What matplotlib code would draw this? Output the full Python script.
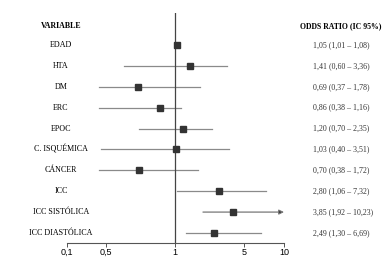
import numpy as np
import matplotlib.pyplot as plt

# datos del forest plot
variables = ["EDAD", "HTA", "DM", "ERC", "EPOC", "C. ISQUÉMICA",
             "CÁNCER", "ICC", "ICC SISTÓLICA", "ICC DIASTÓLICA"]
odds = [1.05, 1.41, 0.69, 0.86, 1.20, 1.03, 0.70, 2.80, 3.85, 2.49]
ci_low = [1.01, 0.60, 0.37, 0.38, 0.70, 0.40, 0.38, 1.06, 1.92, 1.30]
ci_high = [1.08, 3.36, 1.78, 1.16, 2.35, 3.51, 1.72, 7.32, 10.23, 6.69]
or_labels = ["1,05 (1,01 – 1,08)", "1,41 (0,60 – 3,36)", "0,69 (0,37 – 1,78)",
             "0,86 (0,38 – 1,16)", "1,20 (0,70 – 2,35)", "1,03 (0,40 – 3,51)",
             "0,70 (0,38 – 1,72)", "2,80 (1,06 – 7,32)", "3,85 (1,92 – 10,23)",
             "2,49 (1,30 – 6,69)"]
x_ticks = [0.1, 0.5, 1, 5, 10]
x_tick_labels = ["0,1", "0,5", "1", "5", "10"]

x_max = 10

# eje original no es logaritmico puro: escala log por tramos entre ticks
tick_pos = np.array([0.0, 39.0, 108.0, 177.0, 217.0])
log_ticks = np.log10(x_ticks)


def fwd(x):
    x = np.clip(np.asarray(x, dtype=float), 1e-6, None)
    return np.interp(np.log10(x), log_ticks, tick_pos)


def inv(p):
    return 10 ** np.interp(np.asarray(p, dtype=float), tick_pos, log_ticks)


fig = plt.figure(figsize=(3.91, 2.65), dpi=100)
ax = fig.add_axes([67 / 391, 22 / 265, 217 / 391, 230 / 265])
ax.set_xscale("function", functions=(fwd, inv))

serif = "Liberation Serif"

for i in range(len(variables)):
    hi = min(ci_high[i], x_max)
    if ci_high[i] > x_max:
        ax.annotate("", xy=(hi, i), xytext=(ci_low[i], i),
                    arrowprops=dict(arrowstyle="-|>", color="#777777", lw=0.9,
                                    mutation_scale=7, shrinkA=0, shrinkB=0,
                                    fc="#111111", ec="#777777"))
    else:
        ax.plot([ci_low[i], hi], [i, i], color="#8a8a8a", lw=0.9, zorder=1)
    ax.plot(odds[i], i, marker="s", ms=3.8, color="#333333", zorder=3)

    ax.text(-0.028, i, variables[i], transform=ax.get_yaxis_transform(),
            ha="center", va="center", fontsize=5.8, family=serif, clip_on=False)
    ax.text(1.134, i, or_labels[i], transform=ax.get_yaxis_transform(),
            ha="left", va="center", fontsize=5.7, family=serif,
            color="#333333", clip_on=False)

# encabezados
ax.text(-0.028, -0.91, "VARIABLE", transform=ax.get_yaxis_transform(),
        ha="center", va="center", fontsize=5.7, family=serif,
        fontweight="bold", clip_on=False)
ax.text(1.263, -0.91, "ODDS RATIO (IC 95%)", transform=ax.get_yaxis_transform(),
        ha="center", va="center", fontsize=5.6, family=serif,
        fontweight="bold", clip_on=False)

ax.axvline(1, color="#444444", lw=0.9, zorder=2)

ax.set_xlim(0.1, x_max)
ax.set_ylim(9.48, -1.53)
ax.set_xticks(x_ticks)
ax.set_xticklabels(x_tick_labels, family="Liberation Sans", fontsize=6.5)
ax.minorticks_off()
ax.set_yticks([])
ax.tick_params(axis="x", length=3, width=0.7, color="#555555", pad=0.8)
for s in ["top", "left", "right"]:
    ax.spines[s].set_visible(False)
ax.spines["bottom"].set_color("#555555")
ax.spines["bottom"].set_linewidth(0.8)

fig.savefig("out.png", dpi=100, facecolor="white")
